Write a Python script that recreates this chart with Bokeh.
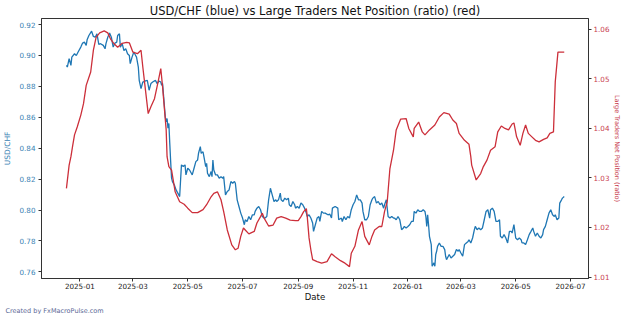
import pandas as pd
from bokeh.plotting import figure
from bokeh.models import (Range1d, LinearAxis, MonthsTicker, DatetimeTickFormatter,
                          SingleIntervalTicker, NumeralTickFormatter, Title)
from bokeh.embed import file_html
from bokeh.resources import INLINE

FONT = "DejaVu Sans"
BLUE = "#1f77b4"
RED = "#cc2f3a"
BASE = pd.Timestamp("2025-01-01")

# USD/CHF close, dated in days from 1 Jan 2025
usdchf_day = [
    -15, -14, -12, -10, -9, -6, -4, -2, 1, 3,
    5, 7, 8, 10, 13, 15, 17, 19, 21, 23,
    26, 28, 29, 31, 33, 35, 37, 39, 41, 42,
    44, 45, 47, 49, 51, 53, 55, 56, 58, 60,
    62, 63, 65, 66, 68, 70, 73, 75, 77, 79,
    81, 84, 86, 88, 90, 91, 92, 95, 96, 97,
    98, 99, 100, 101, 102, 103, 105, 107, 110, 111,
    113, 115, 117, 118, 120, 122, 124, 125, 127, 129,
    131, 132, 134, 135, 137, 138, 140, 141, 142, 144,
    146, 147, 148, 149, 151, 153, 155, 157, 159, 160,
    162, 164, 166, 168, 170, 172, 173, 175, 177, 179,
    181, 183, 184, 186, 188, 190, 192, 194, 195, 197,
    199, 201, 203, 205, 206, 208, 210, 212, 214, 216,
    218, 219, 221, 223, 224, 226, 228, 230, 232, 233,
    235, 237, 239, 240, 242, 244, 246, 248, 250, 252,
    253, 255, 257, 259, 260, 262, 264, 266, 267, 269,
    271, 273, 276, 278, 280, 281, 284, 287, 288, 291,
    292, 294, 296, 298, 300, 302, 304, 306, 308, 310,
    312, 314, 315, 317, 319, 321, 323, 325, 326, 328,
    330, 332, 334, 336, 338, 339, 341, 343, 345, 347,
    349, 350, 352, 354, 356, 358, 360, 361, 363, 365,
    367, 369, 371, 372, 374, 376, 378, 380, 382, 384,
    385, 386, 387, 388, 389, 391, 392, 394, 395, 396,
    397, 398, 400, 402, 404, 406, 407, 408, 410, 411,
    413, 415, 417, 419, 421, 422, 424, 426, 428, 430,
    432, 433, 435, 437, 439, 440, 442, 444, 446, 448,
    450, 452, 454, 456, 457, 459, 461, 463, 465, 467,
    468, 470, 472, 474, 476, 478, 480, 481, 483, 485,
    487, 489, 491, 492, 494, 496, 498, 500, 502, 504,
    505, 507, 509, 511, 513, 515, 516, 518, 520, 522,
    524, 526, 528, 529, 531, 533, 534, 536, 537, 539,
]
usdchf_close = [
    0.8936, 0.8925, 0.8979, 0.8936, 0.8989, 0.9011, 0.9000, 0.9022, 0.9054, 0.9080,
    0.9086, 0.9065, 0.9101, 0.9129, 0.9157, 0.9123, 0.9118, 0.9140, 0.9071, 0.9076,
    0.9065, 0.9043, 0.9076, 0.9118, 0.9146, 0.9118, 0.9054, 0.9080, 0.9086, 0.9129,
    0.9140, 0.9054, 0.9076, 0.9032, 0.9043, 0.9011, 0.9000, 0.8947, 0.8989, 0.9022,
    0.9000, 0.8989, 0.8925, 0.8839, 0.8786, 0.8828, 0.8835, 0.8839, 0.8775, 0.8818,
    0.8828, 0.8839, 0.8818, 0.8835, 0.8828, 0.8807, 0.8818, 0.8603, 0.8570, 0.8592,
    0.8530, 0.8560, 0.8431, 0.8313, 0.8206, 0.8184, 0.8163, 0.8130, 0.8098, 0.8087,
    0.8292, 0.8281, 0.8292, 0.8227, 0.8270, 0.8259, 0.8238, 0.8227, 0.8270, 0.8313,
    0.8324, 0.8367, 0.8410, 0.8367, 0.8377, 0.8345, 0.8281, 0.8302, 0.8238, 0.8216,
    0.8249, 0.8216, 0.8324, 0.8259, 0.8227, 0.8227, 0.8206, 0.8216, 0.8206, 0.8216,
    0.8098, 0.8120, 0.8130, 0.8184, 0.8173, 0.8184, 0.8173, 0.8066, 0.8023, 0.7980,
    0.7948, 0.7905, 0.7937, 0.7926, 0.7958, 0.7937, 0.7969, 0.7969, 0.7991, 0.8012,
    0.8023, 0.8002, 0.7958, 0.7948, 0.7948, 0.7958, 0.8066, 0.8141, 0.8098, 0.8055,
    0.8066, 0.8055, 0.8066, 0.8109, 0.8066, 0.8055, 0.8077, 0.8066, 0.8077, 0.8034,
    0.8023, 0.8055, 0.8034, 0.8012, 0.8023, 0.8012, 0.8045, 0.8034, 0.8012, 0.7980,
    0.7958, 0.7969, 0.7948, 0.7916, 0.7862, 0.7905, 0.7948, 0.7958, 0.7926, 0.7991,
    0.7980, 0.7980, 0.7969, 0.7974, 0.7948, 0.8012, 0.8023, 0.8012, 0.7937, 0.7948,
    0.7926, 0.7958, 0.7937, 0.7958, 0.7948, 0.8002, 0.8034, 0.8055, 0.8098, 0.8066,
    0.8066, 0.8045, 0.7991, 0.7937, 0.7937, 0.7958, 0.8034, 0.8066, 0.8077, 0.8087,
    0.8045, 0.8055, 0.8034, 0.8045, 0.8012, 0.8034, 0.8066, 0.7958, 0.7948, 0.7958,
    0.7948, 0.7948, 0.7937, 0.7958, 0.7937, 0.7873, 0.7884, 0.7894, 0.7884, 0.7894,
    0.7905, 0.7926, 0.7926, 0.7991, 0.7980, 0.8002, 0.7991, 0.7991, 0.8002, 0.7991,
    0.7958, 0.7894, 0.7969, 0.7905, 0.7830, 0.7776, 0.7636, 0.7658, 0.7636, 0.7712,
    0.7733, 0.7765, 0.7787, 0.7765, 0.7765, 0.7744, 0.7701, 0.7679, 0.7701, 0.7712,
    0.7690, 0.7701, 0.7712, 0.7744, 0.7733, 0.7744, 0.7722, 0.7701, 0.7776, 0.7787,
    0.7797, 0.7808, 0.7787, 0.7819, 0.7873, 0.7894, 0.7873, 0.7884, 0.7873, 0.7884,
    0.7937, 0.7991, 0.8002, 0.7948, 0.8002, 0.8012, 0.7991, 0.7926, 0.7926, 0.7937,
    0.7830, 0.7819, 0.7841, 0.7819, 0.7787, 0.7862, 0.7862, 0.7851, 0.7905, 0.7819,
    0.7808, 0.7819, 0.7808, 0.7787, 0.7787, 0.7776, 0.7808, 0.7841, 0.7862, 0.7884,
    0.7862, 0.7830, 0.7851, 0.7830, 0.7819, 0.7841, 0.7873, 0.7894, 0.7937, 0.7980,
    0.8002, 0.7969, 0.7958, 0.7969, 0.7937, 0.7948, 0.8045, 0.8066, 0.8077, 0.8087,
]

# Large traders net position ratio, dated in days from 1 Jan 2025
ratio_day = [
    -15, -12, -10, -8, -6, -3, 1, 4, 7, 12,
    15, 18, 22, 27, 31, 34, 38, 42, 47, 52,
    55, 59, 64, 68, 70, 73, 76, 79, 83, 87,
    90, 92, 96, 97, 99, 102, 106, 111, 116, 120,
    125, 131, 137, 141, 146, 149, 153, 157, 160, 164,
    169, 173, 176, 179, 182, 184, 188, 194, 197, 201,
    203, 205, 210, 215, 219, 224, 229, 234, 240, 243,
    246, 249, 252, 253, 255, 257, 259, 264, 269, 275,
    280, 284, 290, 295, 300, 302, 306, 310, 314, 317,
    322, 325, 328, 333, 336, 339, 342, 345, 349, 352,
    357, 363, 366, 371, 372, 377, 381, 384, 389, 395,
    400, 405, 411, 415, 419, 422, 428, 433, 435, 436,
    441, 446, 449, 453, 457, 462, 465, 469, 473, 477,
    481, 483, 486, 490, 493, 496, 499, 503, 507, 511,
    516, 520, 523, 527, 529, 532, 539,
]
ratio_value = [
    1.0279, 1.0326, 1.0343, 1.0366, 1.0387, 1.0403, 1.0427, 1.0450, 1.0487, 1.0514,
    1.0558, 1.0584, 1.0593, 1.0597, 1.0593, 1.0581, 1.0571, 1.0564, 1.0572, 1.0574,
    1.0573, 1.0554, 1.0551, 1.0558, 1.0524, 1.0477, 1.0430, 1.0444, 1.0460, 1.0494,
    1.0521, 1.0484, 1.0397, 1.0343, 1.0323, 1.0316, 1.0272, 1.0252, 1.0247, 1.0239,
    1.0230, 1.0230, 1.0236, 1.0246, 1.0262, 1.0269, 1.0272, 1.0256, 1.0232, 1.0195,
    1.0165, 1.0155, 1.0158, 1.0182, 1.0199, 1.0195, 1.0187, 1.0192, 1.0209, 1.0222,
    1.0229, 1.0219, 1.0203, 1.0205, 1.0219, 1.0222, 1.0219, 1.0215, 1.0214, 1.0214,
    1.0222, 1.0232, 1.0238, 1.0222, 1.0179, 1.0155, 1.0135, 1.0131, 1.0128, 1.0131,
    1.0147, 1.0141, 1.0133, 1.0128, 1.0121, 1.0148, 1.0162, 1.0195, 1.0212, 1.0182,
    1.0165, 1.0182, 1.0195, 1.0202, 1.0202, 1.0232, 1.0252, 1.0319, 1.0356, 1.0397,
    1.0419, 1.0420, 1.0400, 1.0383, 1.0400, 1.0413, 1.0393, 1.0387, 1.0397, 1.0407,
    1.0423, 1.0432, 1.0429, 1.0417, 1.0410, 1.0390, 1.0376, 1.0368, 1.0343, 1.0326,
    1.0296, 1.0309, 1.0323, 1.0336, 1.0356, 1.0363, 1.0393, 1.0405, 1.0400, 1.0397,
    1.0409, 1.0411, 1.0383, 1.0366, 1.0390, 1.0407, 1.0390, 1.0383, 1.0376, 1.0373,
    1.0378, 1.0381, 1.0390, 1.0393, 1.0494, 1.0554, 1.0554,
]

fx_dates = BASE + pd.to_timedelta(usdchf_day, unit="D")
ratio_dates = BASE + pd.to_timedelta(ratio_day, unit="D")

p = figure(
    width=625, height=314,
    x_axis_type="datetime",
    x_range=Range1d(pd.Timestamp("2024-11-19 06:00"), pd.Timestamp("2026-07-21")),
    y_range=Range1d(0.7557, 0.9239),
    output_backend="svg", toolbar_location=None,
    min_border_left=38, min_border_right=37, min_border_top=18, min_border_bottom=35,
    title="USD/CHF (blue) vs Large Traders Net Position (ratio) (red)",
)
p.extra_y_ranges = {"ratio": Range1d(1.0097, 1.0622)}

p.title.align = "center"
p.title.text_font = FONT
p.title.text_font_size = "11.5px"
p.title.text_font_style = "normal"
p.title.text_color = "#111111"
p.title.standoff = 2

p.xgrid.visible = False
p.ygrid.visible = False
p.outline_line_color = "#333333"
p.outline_line_width = 1
p.background_fill_color = "white"
p.border_fill_color = "white"

p.line(fx_dates, usdchf_close, line_color=BLUE, line_width=1.3)
p.line(ratio_dates, ratio_value, line_color=RED, line_width=1.3, y_range_name="ratio")

def style_axis(ax, color, label_color):
    ax.axis_line_color = "#333333"
    ax.major_tick_line_color = "#333333"
    ax.major_tick_out = 3
    ax.major_tick_in = 0
    ax.minor_tick_line_color = None
    ax.major_label_text_font = FONT
    ax.major_label_text_font_size = "7.2px"
    ax.major_label_text_color = color
    ax.major_label_standoff = 2
    ax.axis_label_text_font = FONT
    ax.axis_label_text_font_style = "normal"
    ax.axis_label_text_color = label_color

# x axis: every other month
xa = p.xaxis[0]
style_axis(xa, "#222222", "#111111")
xa.ticker = MonthsTicker(months=[0, 2, 4, 6, 8, 10])
xa.formatter = DatetimeTickFormatter(months="%Y-%m", days="%Y-%m", years="%Y-%m")
xa.axis_label = "Date"
xa.axis_label_text_font_size = "8.5px"
xa.major_label_standoff = 1
xa.axis_label_standoff = 0

# left axis: USD/CHF
ya = p.yaxis[0]
style_axis(ya, "#3a82b3", "#3a82b3")
ya.ticker = SingleIntervalTicker(interval=0.02)
ya.formatter = NumeralTickFormatter(format="0.00")
ya.axis_label = "USD/CHF"
ya.axis_label_text_font_size = "7.5px"
ya.axis_label_standoff = 4

# right axis: net position ratio
ra = LinearAxis(y_range_name="ratio")
style_axis(ra, "#c8404f", "#c8404f")
ra.ticker = SingleIntervalTicker(interval=0.01)
ra.formatter = NumeralTickFormatter(format="0.00")
ra.major_label_standoff = 1
ra.axis_label = "Large Traders Net Position (ratio)"
ra.axis_label_text_font_size = "6.5px"
ra.axis_label_standoff = 0
p.add_layout(ra, "right")

# credit line under the x axis, flush left
credit = Title(
    text="Created by FxMacroPulse.com", align="left", offset=-36,
    text_font=FONT, text_font_size="6.5px", text_font_style="normal",
    text_color="#5a6796", standoff=0,
)
p.add_layout(credit, "below")

open("out.html", "w").write(file_html(p, INLINE))
